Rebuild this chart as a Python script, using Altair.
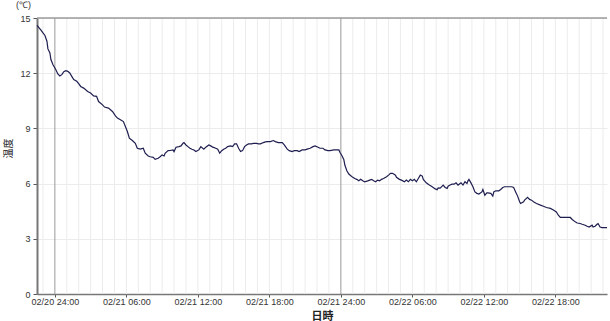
import altair as alt
import pandas as pd

start = "2021-02-20 22:30"
minutes = [0, 20, 30, 40, 50, 55, 65, 70, 80, 95, 105, 115, 125, 135, 145, 155, 165, 175, 185, 200,
           210, 220, 235, 255, 270, 285, 300, 310, 330, 340, 360, 380, 395, 405, 420, 435, 445, 455, 465, 480,
           495, 505, 520, 535, 545, 560, 570, 585, 595, 610, 620, 630, 640, 645, 660, 670, 685, 690, 700, 715,
           725, 735, 740, 750, 760, 770, 780, 790, 800, 815, 825, 840, 850, 865, 875, 885, 900, 910, 920, 930,
           940, 950, 960, 975, 985, 995, 1005, 1015, 1025, 1035, 1045, 1055, 1065, 1080, 1090, 1105, 1115, 1125, 1140, 1150,
           1160, 1175, 1190, 1200, 1215, 1235, 1245, 1260, 1270, 1285, 1295, 1310, 1320, 1335, 1350, 1360, 1375, 1390, 1400, 1415,
           1425, 1440, 1450, 1465, 1475, 1495, 1505, 1520, 1525, 1535, 1545, 1550, 1560, 1570, 1580, 1590, 1600, 1610, 1620, 1630,
           1640, 1650, 1665, 1675, 1685, 1695, 1705, 1715, 1725, 1735, 1745, 1760, 1770, 1780, 1790, 1805, 1810, 1825, 1835, 1850,
           1860, 1870, 1880, 1890, 1900, 1910, 1920, 1930, 1940, 1945, 1960, 1970, 1980, 1995, 2005, 2015, 2020, 2030, 2040, 2045,
           2055, 2065, 2070, 2080, 2090, 2100, 2110, 2120, 2135, 2145, 2155, 2165, 2170, 2175, 2185, 2195, 2205, 2215, 2225, 2240,
           2245, 2255, 2265, 2270, 2285, 2295, 2300, 2310, 2325, 2335, 2345, 2355, 2375, 2390, 2400, 2410, 2420, 2430, 2435, 2450,
           2455, 2470, 2480, 2490, 2500, 2515, 2535, 2550, 2565, 2585, 2600, 2615, 2625, 2635, 2650, 2665, 2685, 2695, 2710, 2720,
           2735, 2745, 2760, 2770, 2780, 2795, 2800, 2810, 2820, 2825, 2835, 2845, 2855, 2870]
temps = [14.6, 14.34, 14.19, 14.05, 13.74, 13.32, 13.10, 12.74, 12.47, 12.19, 11.96, 11.85, 11.92, 12.08, 12.14, 12.10, 12.01, 11.83, 11.65, 11.56,
         11.43, 11.28, 11.19, 11.01, 10.92, 10.77, 10.74, 10.46, 10.28, 10.16, 10.10, 9.92, 9.68, 9.56, 9.47, 9.37, 9.10, 8.83, 8.47, 8.34,
         8.19, 7.92, 7.87, 7.92, 7.65, 7.50, 7.46, 7.43, 7.32, 7.38, 7.46, 7.56, 7.50, 7.65, 7.79, 7.80, 7.83, 7.74, 7.98, 8.01,
         8.05, 8.19, 8.23, 8.10, 8.01, 7.92, 7.87, 7.83, 7.74, 7.83, 8.01, 7.87, 7.98, 8.10, 8.05, 7.98, 7.92, 7.87, 7.65, 7.79,
         7.87, 7.92, 8.01, 8.05, 8.01, 8.16, 8.16, 7.92, 7.74, 7.79, 8.01, 8.10, 8.16, 8.16, 8.19, 8.19, 8.16, 8.16, 8.23, 8.27,
         8.28, 8.28, 8.34, 8.28, 8.23, 8.23, 8.10, 7.87, 7.79, 7.74, 7.79, 7.79, 7.74, 7.83, 7.83, 7.87, 7.92, 8.01, 8.05, 7.98,
         7.92, 7.92, 7.83, 7.79, 7.79, 7.83, 7.83, 7.83, 7.70, 7.53, 7.30, 7.01, 6.70, 6.52, 6.43, 6.34, 6.28, 6.23, 6.15, 6.23,
         6.15, 6.10, 6.15, 6.19, 6.23, 6.15, 6.10, 6.19, 6.15, 6.23, 6.28, 6.37, 6.46, 6.56, 6.56, 6.46, 6.34, 6.23, 6.19, 6.10,
         6.19, 6.10, 6.23, 6.15, 6.23, 6.10, 6.28, 6.46, 6.41, 6.23, 6.04, 5.97, 5.89, 5.79, 5.71, 5.67, 5.77, 5.75, 5.86, 5.92,
         5.79, 5.74, 5.86, 5.92, 5.97, 5.97, 6.04, 5.92, 6.04, 5.92, 6.10, 6.01, 6.15, 6.23, 6.04, 5.83, 5.55, 5.47, 5.43, 5.55,
         5.68, 5.37, 5.50, 5.50, 5.47, 5.32, 5.55, 5.61, 5.61, 5.68, 5.79, 5.83, 5.83, 5.83, 5.79, 5.55, 5.32, 5.01, 4.92, 5.01,
         5.10, 5.25, 5.14, 5.10, 5.01, 4.92, 4.83, 4.77, 4.70, 4.65, 4.56, 4.46, 4.28, 4.16, 4.16, 4.16, 4.16, 4.05, 3.92, 3.86,
         3.83, 3.79, 3.74, 3.68, 3.64, 3.74, 3.64, 3.68, 3.79, 3.83, 3.64, 3.61, 3.61, 3.61]
y_ticks = [0, 3, 6, 9, 12, 15]

fmt = "%Y-%m-%dT%H:%M:%S"
t0 = pd.Timestamp(start)
df = pd.DataFrame({
    "time": [(t0 + pd.Timedelta(minutes=m)).strftime(fmt) for m in minutes],
    "temp": temps,
})

hours = pd.date_range("2021-02-20 23:00", "2021-02-22 22:00", freq="h")
grid_df = pd.DataFrame({"time": [h.strftime(fmt) for h in hours],
                        "midnight": [h.hour == 0 for h in hours]})
minor_df = grid_df[~grid_df["midnight"]]
major_df = grid_df[grid_df["midnight"]]
tick_vals = [alt.DateTime(year=h.year, month=h.month, date=h.day, hours=h.hour)
             for h in hours if h.hour % 6 == 0]

label_expr = ("hours(datum.value) == 0 ? timeFormat(datum.value - 3600000, '%m/%d') + ' 24:00' : "
              "timeFormat(datum.value, '%m/%d %H:%M')")

x_scale = alt.Scale(domain=[alt.DateTime(year=2021, month=2, date=20, hours=22, minutes=30),
                            alt.DateTime(year=2021, month=2, date=22, hours=22, minutes=20)], nice=False)
y_scale = alt.Scale(domain=[0, 15], nice=False)

minor = alt.Chart(minor_df).mark_rule(color="#ececec", strokeWidth=1).encode(
    x=alt.X("time:T", scale=x_scale, axis=None))
major = alt.Chart(major_df).mark_rule(color="#9a9a9a", strokeWidth=1).encode(
    x=alt.X("time:T", scale=x_scale, axis=None))
top = alt.Chart(major_df).mark_rule(color="#9a9a9a", strokeWidth=1).encode(
    y=alt.datum(15, scale=y_scale, axis=None))

x = alt.X(
    "time:T",
    scale=x_scale,
    axis=alt.Axis(
        title="日時",
        titleFont="Noto Sans CJK JP", titleFontSize=11, titleFontWeight="bold", titleColor="#222",
        titleY=22, titleBaseline="middle",
        values=tick_vals,
        labelExpr=label_expr, labelOverlap=False, labelFlush=False,
        labelFont="Liberation Sans", labelFontSize=9, labelColor="#333", labelPadding=0,
        grid=False,
        tickSize=3, tickColor="#555",
        domainColor="#777", domainWidth=1.5,
    ),
)
y = alt.Y(
    "temp:Q",
    scale=y_scale,
    axis=alt.Axis(
        title="温度",
        titleFont="Noto Sans CJK JP", titleFontSize=10, titleFontWeight="normal", titleColor="#222",
        titleX=-29, titleY=130, titleAlign="center", titleBaseline="middle",
        values=y_ticks,
        labelFont="Liberation Sans", labelFontSize=9, labelColor="#333", labelPadding=3,
        tickSize=4, tickColor="#555",
        grid=True, gridColor="#ececec",
        domainColor="#777", domainWidth=2,
    ),
)

line = alt.Chart(df).mark_line(color="#1e1e50", strokeWidth=1.2).encode(x=x, y=y)

chart = alt.layer(minor, major, top, line).resolve_axis(x="independent", y="independent").properties(
    width=570, height=276,
    title=alt.TitleParams("(℃)", anchor="start", frame="group", dx=-21, fontSize=9, font="Liberation Sans",
                          fontWeight="normal", color="#333", offset=4),
    autosize=alt.AutoSizeParams(type="none"),
    padding={"left": 37, "top": 18, "right": 3, "bottom": 27},
    background="white",
).configure_view(strokeWidth=0)

chart.save("out.html", embed_options={"renderer": "svg", "actions": False})
